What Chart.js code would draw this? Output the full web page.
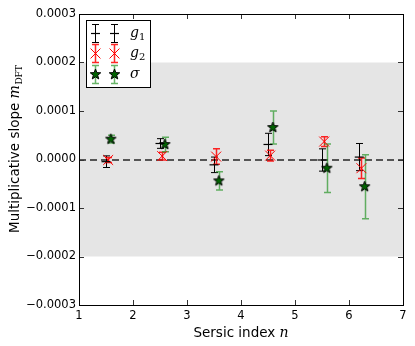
<!DOCTYPE html>
<html>
<head>
<meta charset="utf-8">
<script src="https://cdn.jsdelivr.net/npm/chart.js@4"></script>
<style>
  html, body { margin: 0; padding: 0; background: #fff; }
  #wrap { width: 415px; height: 346px; }
</style>
</head>
<body>
<div id="wrap"><canvas id="c" width="415" height="346"></canvas></div>
<script>
// Sersic index positions of each series (offset a little so they don't overlap)
const nG1 = [1.5, 2.5, 3.5, 4.5, 5.5, 6.19];
const nG2 = [1.54, 2.54, 3.54, 4.54, 5.54, 6.23];
const nSigma = [1.59, 2.59, 3.59, 4.59, 5.59, 6.29];

// multiplicative slope values and their errors
const g1 = [-0.0000045, 0.000033, -0.000011, 0.000031, -0.000001, 0.000005];
const g1Err = [0.000012, 0.00001, 0.000016, 0.000023, 0.000023, 0.000028];
const g2 = [-0.000001, 0.000007, 0.000006, 0.000008, 0.000037, -0.000018];
const g2Err = [0.000005, 0.000008, 0.000016, 0.000011, 0.00001, 0.000021];
const sigma = [0.000042, 0.000031, -0.000044, 0.000066, -0.000018, -0.000056];
const sigmaErr = [0.000008, 0.000015, 0.000019, 0.000034, 0.00005, 0.000066];

const xTicks = [1, 2, 3, 4, 5, 6, 7];
const yTicks = [-0.0003, -0.0002, -0.0001, 0, 0.0001, 0.0002, 0.0003];
const band = [-0.0002, 0.0002];

// filled star marker
function makeStar(r) {
  const size = Math.ceil(r * 2 + 4);
  const cv = document.createElement('canvas');
  cv.width = size; cv.height = size;
  const c = cv.getContext('2d');
  const cx = size / 2, cy = size / 2;
  c.beginPath();
  for (let i = 0; i < 10; i++) {
    const rad = i % 2 === 0 ? r : r * 0.42;
    const a = -Math.PI / 2 + i * Math.PI / 5;
    const px = cx + rad * Math.cos(a), py = cy + rad * Math.sin(a);
    if (i === 0) c.moveTo(px, py); else c.lineTo(px, py);
  }
  c.closePath();
  c.fillStyle = '#006400';
  c.fill();
  c.lineWidth = 1;
  c.strokeStyle = '#000';
  c.stroke();
  return cv;
}
const star = makeStar(5.5);

const series = [
  { x: nG1, y: g1, err: g1Err, errColor: '#000', errWidth: 1, style: 'line', color: '#000', radius: 4.5, width: 1.2 },
  { x: nG2, y: g2, err: g2Err, errColor: 'rgba(255,0,0,0.85)', errWidth: 1.5, style: 'crossRot', color: '#ff0000', radius: 7, width: 1 },
  { x: nSigma, y: sigma, err: sigmaErr, errColor: 'rgba(40,150,40,0.7)', errWidth: 1.5, style: star, color: '#006400', radius: 6, width: 1 }
];

function drawErrBar(ctx, px, pTop, pBot, color, width, cap) {
  ctx.save();
  ctx.strokeStyle = color;
  ctx.lineWidth = width;
  ctx.beginPath();
  ctx.moveTo(px, pTop); ctx.lineTo(px, pBot);
  ctx.moveTo(px - cap, pTop); ctx.lineTo(px + cap, pTop);
  ctx.moveTo(px - cap, pBot); ctx.lineTo(px + cap, pBot);
  ctx.stroke();
  ctx.restore();
}

const decorPlugin = {
  id: 'decor',
  beforeDraw(chart) {
    const { ctx, chartArea: a, scales: { y } } = chart;
    ctx.save();
    ctx.fillStyle = '#fff';
    ctx.fillRect(0, 0, chart.width, chart.height);
    ctx.fillStyle = '#e5e5e5';
    const t = y.getPixelForValue(band[1]), b = y.getPixelForValue(band[0]);
    ctx.fillRect(a.left, t, a.right - a.left, b - t);
    // dashed zero line
    const z = Math.round(y.getPixelForValue(0));
    ctx.strokeStyle = '#555';
    ctx.lineWidth = 2;
    ctx.setLineDash([7, 4]);
    ctx.beginPath();
    ctx.moveTo(a.left, z); ctx.lineTo(a.right, z);
    ctx.stroke();
    ctx.restore();
  },
  beforeDatasetsDraw(chart) {
    const { ctx, scales: { x, y } } = chart;
    series.forEach(s => {
      s.x.forEach((n, i) => {
        const px = Math.round(x.getPixelForValue(n)) + 0.5;
        const pt = y.getPixelForValue(s.y[i] + s.err[i]);
        const pb = y.getPixelForValue(s.y[i] - s.err[i]);
        drawErrBar(ctx, px, pt, pb, s.errColor, s.errWidth, 3.5);
      });
    });
  },
  afterDraw(chart) {
    const { ctx, chartArea: a, scales: { x, y } } = chart;
    ctx.save();
    // inward ticks
    ctx.strokeStyle = '#333';
    ctx.lineWidth = 1;
    ctx.beginPath();
    yTicks.forEach(v => {
      const p = Math.round(y.getPixelForValue(v)) + 0.5;
      ctx.moveTo(a.left, p); ctx.lineTo(a.left + 5, p);
      ctx.moveTo(a.right, p); ctx.lineTo(a.right - 5, p);
    });
    xTicks.forEach(v => {
      const p = Math.round(x.getPixelForValue(v)) + 0.5;
      ctx.moveTo(p, a.bottom); ctx.lineTo(p, a.bottom - 5);
      ctx.moveTo(p, a.top); ctx.lineTo(p, a.top + 5);
    });
    ctx.stroke();
    // frame
    ctx.strokeStyle = '#000';
    ctx.strokeRect(Math.round(a.left) + 0.5, Math.round(a.top) + 0.5,
      Math.round(a.right - a.left), Math.round(a.bottom - a.top));

    // axis titles
    ctx.fillStyle = '#000';
    ctx.textBaseline = 'alphabetic';
    const xl1 = 'Sersic index ';
    ctx.font = '13.5px "DejaVu Sans"';
    const w1 = ctx.measureText(xl1).width;
    ctx.font = 'italic 14px "DejaVu Serif"';
    const w2 = ctx.measureText('n').width;
    let sx = (a.left + a.right) / 2 - (w1 + w2) / 2;
    ctx.font = '13.5px "DejaVu Sans"';
    ctx.fillText(xl1, sx, 337);
    ctx.font = 'italic 14px "DejaVu Serif"';
    ctx.fillText('n', sx + w1, 337);

    ctx.save();
    ctx.translate(19, 233);
    ctx.rotate(-Math.PI / 2);
    ctx.font = '13.5px "DejaVu Sans"';
    const yl = 'Multiplicative slope ';
    ctx.fillText(yl, 0, 0);
    let off = ctx.measureText(yl).width;
    ctx.font = 'italic 14px "DejaVu Serif"';
    ctx.fillText('m', off, 0);
    off += ctx.measureText('m').width + 0.5;
    ctx.font = '9px "DejaVu Serif"';
    ctx.fillText('DFT', off, 3);
    ctx.restore();

    // legend
    const L = { x: 86, y: 20, w: 64, h: 67 };
    ctx.fillStyle = '#fff';
    ctx.fillRect(L.x, L.y, L.w, L.h);
    ctx.strokeStyle = '#000';
    ctx.lineWidth = 1;
    ctx.strokeRect(L.x + 0.5, L.y + 0.5, L.w, L.h);
    const rows = [33.5, 53.5, 74.5];
    const labels = [['g', '1'], ['g', '2'], ['\u03C3', '']];
    series.forEach((s, i) => {
      [95.5, 114.5].forEach(mx => {
        drawErrBar(ctx, mx, rows[i] - 9, rows[i] + 9, s.errColor, s.errWidth, 3.5);
        drawMarker(ctx, s, mx, rows[i]);
      });
      ctx.fillStyle = '#000';
      ctx.font = 'italic 14px "DejaVu Serif"';
      ctx.fillText(labels[i][0], 130, rows[i] + 3);
      const gw = ctx.measureText(labels[i][0]).width;
      if (labels[i][1]) {
        ctx.font = '10px "DejaVu Serif"';
        ctx.fillText(labels[i][1], 130 + gw, rows[i] + 6);
      }
    });
    ctx.restore();
  }
};

function drawMarker(ctx, s, x, y) {
  ctx.save();
  if (s.style === 'line') {
    ctx.strokeStyle = s.color; ctx.lineWidth = s.width;
    ctx.beginPath(); ctx.moveTo(x - s.radius, y); ctx.lineTo(x + s.radius, y); ctx.stroke();
  } else if (s.style === 'crossRot') {
    const d = s.radius * Math.SQRT1_2;
    ctx.strokeStyle = s.color; ctx.lineWidth = s.width;
    ctx.beginPath();
    ctx.moveTo(x - d, y - d); ctx.lineTo(x + d, y + d);
    ctx.moveTo(x - d, y + d); ctx.lineTo(x + d, y - d);
    ctx.stroke();
  } else {
    ctx.drawImage(s.style, x - s.style.width / 2, y - s.style.height / 2);
  }
  ctx.restore();
}

const datasets = series.map(s => ({
  data: s.x.map((n, i) => ({ x: n, y: s.y[i] })),
  pointStyle: s.style,
  pointRadius: s.radius,
  pointBorderColor: s.color,
  pointBackgroundColor: s.color,
  pointBorderWidth: s.width,
  showLine: false
}));

new Chart(document.getElementById('c').getContext('2d'), {
  type: 'scatter',
  data: { datasets },
  options: {
    responsive: false,
    animation: false,
    layout: { padding: { top: 14, right: 12, left: 0, bottom: 0 } },
    plugins: { legend: { display: false }, tooltip: { enabled: false } },
    scales: {
      x: {
        type: 'linear', min: 1, max: 7,
        grid: { display: false, drawTicks: false },
        border: { display: false },
        ticks: {
          stepSize: 1, padding: 4, color: '#000', maxRotation: 0,
          font: { family: 'DejaVu Sans', size: 11.5 }
        },
        afterFit(scale) { scale.height = 41; }
      },
      y: {
        type: 'linear', min: -0.0003, max: 0.0003,
        grid: { display: false, drawTicks: false },
        border: { display: false },
        ticks: {
          stepSize: 0.0001, padding: 3, color: '#000',
          font: { family: 'DejaVu Sans', size: 11.5 },
          callback(v) {
            if (Math.abs(v) < 1e-12) return '0.0000';
            const s = Math.abs(v).toFixed(4);
            return v < 0 ? '\u2212' + s : s;
          }
        },
        afterFit(scale) { scale.width = 79; }
      }
    }
  },
  plugins: [decorPlugin]
});
</script>
</body>
</html>
